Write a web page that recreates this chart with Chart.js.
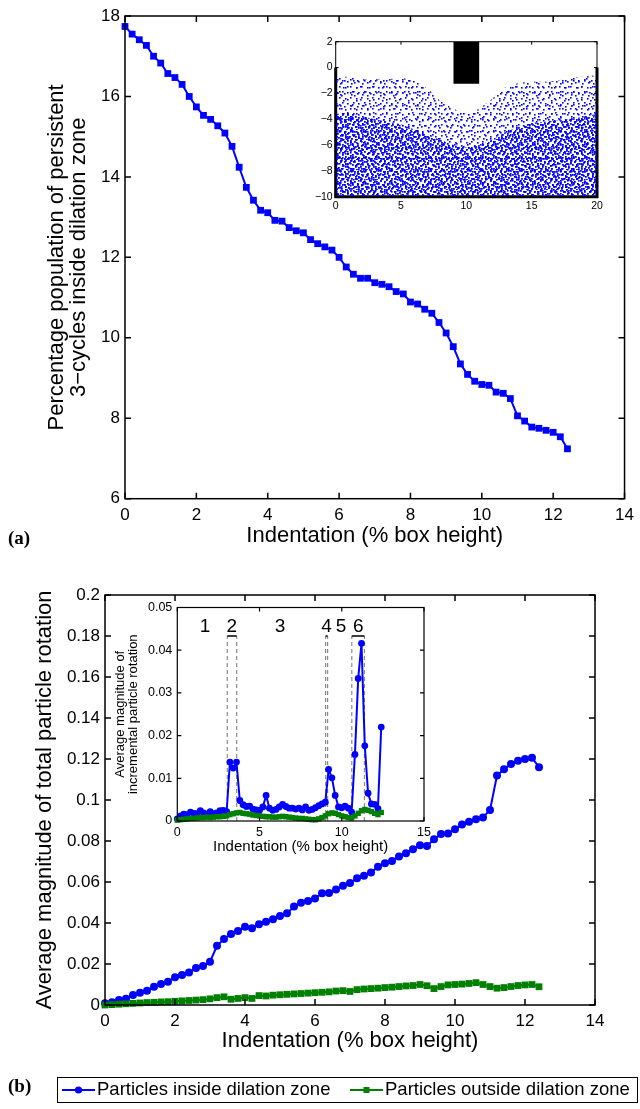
<!DOCTYPE html>
<html lang="en">
<head>
<meta charset="UTF-8">
<title>Indentation: persistent 3-cycles and particle rotation</title>
<script src="https://cdn.jsdelivr.net/npm/chart.js@4.4.1/dist/chart.umd.min.js"></script>
<style>
  html, body { margin: 0; padding: 0; background: #fff; }
  body { width: 640px; height: 1109px; position: relative; overflow: hidden; }
  .box { position: absolute; }
  .panel { position: absolute; font-family: "Liberation Serif", "DejaVu Serif", serif; font-weight: bold; font-size: 19px; line-height: 1; }
</style>
</head>
<body>
  <div class="box" style="left:0;top:0"><canvas id="cyclesChart" width="640" height="560"></canvas></div>
  <div class="box" style="left:300px;top:30px"><canvas id="bedChart" width="310" height="190"></canvas></div>
  <div class="box" style="left:0;top:570px"><canvas id="rotationChart" width="640" height="539"></canvas></div>
  <div class="box" style="left:108px;top:595px"><canvas id="incrementChart" width="330" height="265"></canvas></div>
  <div class="panel" style="left:8px;top:528px">(a)</div>
  <div class="panel" style="left:8px;top:1076px">(b)</div>

<script>
// indentation steps (% box height)
const indentation = [0, 0.2, 0.4, 0.6, 0.8, 1.0, 1.2, 1.4, 1.6, 1.8,
  2.0, 2.2, 2.4, 2.6, 2.8, 3.0, 3.2, 3.4, 3.6, 3.8,
  4.0, 4.2, 4.4, 4.6, 4.8, 5.0, 5.2, 5.4, 5.6, 5.8,
  6.0, 6.2, 6.4, 6.6, 6.8, 7.0, 7.2, 7.4, 7.6, 7.8,
  8.0, 8.2, 8.4, 8.6, 8.8, 9.0, 9.2, 9.4, 9.6, 9.8,
  10.0, 10.2, 10.4, 10.6, 10.8, 11.0, 11.2, 11.4, 11.6, 11.8,
  12.0, 12.2, 12.4];

// (a) % of persistent 3-cycles inside the dilation zone
const persistent3Cycles = [17.74, 17.55, 17.41, 17.27, 17.00, 16.83, 16.57, 16.47, 16.30, 16.00,
  15.74, 15.53, 15.43, 15.27, 15.09, 14.76, 14.24, 13.74, 13.42, 13.17,
  13.11, 12.92, 12.90, 12.74, 12.66, 12.61, 12.44, 12.34, 12.26, 12.18,
  12.00, 11.76, 11.58, 11.48, 11.48, 11.37, 11.33, 11.27, 11.15, 11.09,
  10.89, 10.84, 10.71, 10.61, 10.38, 10.12, 9.78, 9.35, 9.09, 8.92,
  8.84, 8.82, 8.65, 8.62, 8.49, 8.06, 7.93, 7.78, 7.75, 7.70,
  7.65, 7.54, 7.24];

// (a) inset: granular bed at the end of indentation
const bedX = [0, 1, 2, 3, 4, 5, 6, 7, 8, 9, 10, 11, 12, 13, 14, 15, 16, 17, 18, 19, 20];
const looseTop = [-0.8, -0.7, -0.9, -0.9, -0.9, -0.8, -1.0, -1.6, -2.6, -3.2, -3.6, -3.2, -2.4, -1.5, -1.2, -1.1, -1.1, -1.0, -0.8, -0.7, -0.6];
const packedTop = [-3.6, -3.5, -3.8, -4.0, -4.2, -4.4, -4.8, -5.2, -5.6, -6.0, -6.2, -6.0, -5.6, -5.0, -4.6, -4.3, -4.2, -4.1, -4.0, -3.8, -3.6];
const indenterX = [9, 11];
const indenterTip = -1.25;
const wallX = [0, 0, 20, 20];
const wallY = [0, -10, -10, 0];

// (b) total rotation
const rotationInside = [0.0008, 0.0013, 0.0024, 0.0031, 0.0049, 0.0060, 0.0070, 0.0089, 0.0102, 0.0114,
  0.0135, 0.0146, 0.0158, 0.0180, 0.0190, 0.0211, 0.0289, 0.0322, 0.0346, 0.0361,
  0.0382, 0.0374, 0.0394, 0.0406, 0.0418, 0.0434, 0.0447, 0.0480, 0.0499, 0.0507,
  0.0520, 0.0545, 0.0546, 0.0564, 0.0582, 0.0595, 0.0618, 0.0631, 0.0646, 0.0675,
  0.0691, 0.0702, 0.0724, 0.0740, 0.0760, 0.0779, 0.0776, 0.0808, 0.0834, 0.0837,
  0.0857, 0.0881, 0.0894, 0.0906, 0.0915, 0.0951, 0.1119, 0.1150, 0.1176, 0.1192,
  0.1200, 0.1206, 0.1160];
const rotationOutside = [0.0000, 0.0002, 0.0004, 0.0006, 0.0008, 0.0010, 0.0012, 0.0013, 0.0015, 0.0016,
  0.0018, 0.0020, 0.0022, 0.0024, 0.0026, 0.0030, 0.0036, 0.0040, 0.0028, 0.0032,
  0.0036, 0.0032, 0.0046, 0.0044, 0.0048, 0.0050, 0.0052, 0.0054, 0.0056, 0.0058,
  0.0060, 0.0062, 0.0064, 0.0068, 0.0070, 0.0066, 0.0075, 0.0078, 0.0080, 0.0082,
  0.0085, 0.0087, 0.0090, 0.0093, 0.0095, 0.0100, 0.0094, 0.0080, 0.0090, 0.0098,
  0.0100, 0.0102, 0.0105, 0.0109, 0.0100, 0.0090, 0.0082, 0.0085, 0.0090, 0.0095,
  0.0098, 0.0100, 0.0089];

// (b) inset: incremental rotation per step
const incrementInside = [0.0005, 0.0012, 0.0016, 0.0015, 0.0021, 0.0018, 0.0017, 0.0024, 0.0019, 0.0016,
  0.0022, 0.0017, 0.0019, 0.0024, 0.0025, 0.0022, 0.0138, 0.0124, 0.0138, 0.0048,
  0.0038, 0.0034, 0.0035, 0.0028, 0.0026, 0.0025, 0.0033, 0.0060, 0.0030, 0.0025,
  0.0027, 0.0033, 0.0039, 0.0034, 0.0030, 0.0030, 0.0028, 0.0030, 0.0026, 0.0033,
  0.0025, 0.0027, 0.0031, 0.0036, 0.0040, 0.0044, 0.0121, 0.0101, 0.0060, 0.0033,
  0.0031, 0.0035, 0.0030, 0.0021, 0.0156, 0.0334, 0.0416, 0.0176, 0.0065, 0.0040,
  0.0039, 0.0029, 0.0220];
const incrementOutside = [0.0002, 0.0003, 0.0004, 0.0005, 0.0006, 0.0006, 0.0007, 0.0008, 0.0008, 0.0009,
  0.0008, 0.0009, 0.0010, 0.0010, 0.0011, 0.0012, 0.0015, 0.0017, 0.0019, 0.0020,
  0.0018, 0.0017, 0.0016, 0.0014, 0.0013, 0.0012, 0.0011, 0.0010, 0.0010, 0.0009,
  0.0009, 0.0010, 0.0011, 0.0010, 0.0009, 0.0008, 0.0007, 0.0006, 0.0006, 0.0005,
  0.0004, 0.0003, 0.0003, 0.0005, 0.0008, 0.0012, 0.0017, 0.0019, 0.0018, 0.0015,
  0.0012, 0.0010, 0.0008, 0.0007, 0.0012, 0.0018, 0.0024, 0.0027, 0.0025, 0.0022,
  0.0018, 0.0015, 0.0020];

// stage boundaries and stage numbers
const stageBounds = [3.04, 3.61, 9.02, 9.14, 10.61, 11.38];
const stageTop = 0.0433;
const stageNames = ['1', '2', '3', '4', '5', '6'];
const stageNameX = [1.68, 3.32, 6.24, 9.07, 9.95, 11.0];
const stageNameY = 0.0455;
const underlined = [[3.04, 3.61], [9.02, 9.14], [10.61, 11.38]];

const BLUE = '#0000ff';
const GREEN = '#008000';
const FONT = 'Liberation Sans';
const tickFont = { family: FONT, size: 17 };
const titleFont = { family: FONT, size: 22, lineHeight: 1 };
const plain = v => String(+(+v).toFixed(4)).replace('-', '\u2212');

// matlab-like box with inward ticks on all four sides
const boxFrame = {
  id: 'boxFrame',
  afterDatasetsDraw(chart, args, opts) {
    const { ctx, chartArea: a, scales: { x, y } } = chart;
    const len = opts.tick || 6;
    ctx.save();
    ctx.strokeStyle = '#000';
    ctx.lineWidth = opts.width || 1.5;
    ctx.beginPath();
    x.ticks.forEach(t => {
      const px = x.getPixelForValue(t.value);
      ctx.moveTo(px, a.bottom); ctx.lineTo(px, a.bottom - len);
      ctx.moveTo(px, a.top); ctx.lineTo(px, a.top + len);
    });
    y.ticks.forEach(t => {
      const py = y.getPixelForValue(t.value);
      ctx.moveTo(a.left, py); ctx.lineTo(a.left + len, py);
      ctx.moveTo(a.right, py); ctx.lineTo(a.right - len, py);
    });
    ctx.stroke();
    ctx.strokeRect(a.left, a.top, a.width, a.height);
    ctx.restore();
  }
};

const whitePlot = {
  id: 'whitePlot',
  beforeDraw(chart) {
    const { ctx, chartArea: a } = chart;
    ctx.save();
    ctx.fillStyle = '#fff';
    ctx.fillRect(a.left, a.top, a.width, a.height);
    ctx.restore();
  }
};

function series(label, xs, ys, color, style, radius, width, order) {
  return {
    label,
    data: xs.map((x, i) => ({ x, y: ys[i] })),
    borderColor: color,
    backgroundColor: color,
    pointBackgroundColor: color,
    pointBorderWidth: 0,
    pointStyle: style,
    pointRadius: radius,
    borderWidth: width,
    tension: 0,
    fill: false,
    clip: false,
    order
  };
}

function linearAxis(min, max, step, font, pad, size, horizontal) {
  return {
    type: 'linear', min, max,
    ticks: { stepSize: step, font, color: '#000', padding: pad, maxRotation: 0, autoSkip: false, callback: plain },
    grid: { display: false, drawTicks: false },
    border: { display: false },
    afterFit: s => { if (horizontal) s.height = size; else s.width = size; }
  };
}

// ---------- (a) main ----------
const cyclesX = linearAxis(0, 14, 2, tickFont, 6, 61.3, true);
cyclesX.title = { display: true, text: 'Indentation (% box height)', font: titleFont, color: '#000', padding: { top: 0, bottom: 13 } };
const cyclesY = linearAxis(6, 18, 2, tickFont, 5, 125, false);
cyclesY.title = { display: true, text: ['Percentage population of persistent', '3\u2212cycles inside dilation zone'], font: titleFont, color: '#000', padding: { top: 46, bottom: 0 } };

new Chart(document.getElementById('cyclesChart'), {
  type: 'line',
  data: { datasets: [series('3-cycles', indentation, persistent3Cycles, BLUE, 'rect', 4.8, 2, 0)] },
  options: {
    responsive: false, animation: false,
    layout: { padding: { top: 16, right: 14, left: 0, bottom: 0 } },
    scales: { x: cyclesX, y: cyclesY },
    plugins: { legend: { display: false }, tooltip: { enabled: false }, boxFrame: { tick: 6 } }
  },
  plugins: [boxFrame]
});

// ---------- (a) inset: particle bed ----------
const bedCtx = document.getElementById('bedChart').getContext('2d');
function speckle(size, dots, dot) {
  const tile = document.createElement('canvas');
  tile.width = tile.height = size;
  const g = tile.getContext('2d');
  g.fillStyle = BLUE;
  dots.forEach(([dx, dy]) => g.fillRect(dx, dy, dot, dot));
  return bedCtx.createPattern(tile, 'repeat');
}
// two tile sizes laid over each other so the grains don't line up
const looseA = speckle(11, [[1, 2], [6, 1], [9, 6], [3, 7], [7, 9]], 1.6);
const looseB = speckle(13, [[2, 0], [8, 4], [0, 9], [5, 11], [11, 10], [4, 5]], 1.6);
const packedA = speckle(10, [[0, 0], [4, 1], [7, 3], [2, 4], [5, 6], [8, 7], [1, 8], [6, 9]], 1.8);
const packedB = speckle(13, [[1, 1], [6, 0], [10, 2], [3, 5], [8, 6], [11, 8], [0, 10], [5, 11], [9, 11], [6, 3]], 1.8);

const bedLayer = (ys, pattern) => ({
  data: bedX.map((x, i) => ({ x, y: ys[i] })), borderWidth: 0, pointRadius: 0, fill: 'start', backgroundColor: pattern
});

const smallFont = { family: FONT, size: 10.5 };
new Chart(bedCtx, {
  type: 'line',
  data: {
    datasets: [
      { data: indenterX.map(x => ({ x, y: indenterTip })), borderWidth: 0, pointRadius: 0, fill: 'end', backgroundColor: '#000' },
      bedLayer(looseTop, looseA),
      bedLayer(looseTop, looseB),
      bedLayer(packedTop, packedA),
      bedLayer(packedTop, packedB),
      { data: wallX.map((x, i) => ({ x, y: wallY[i] })), borderWidth: 3, borderColor: '#000', pointRadius: 0, fill: false, clip: false }
    ]
  },
  options: {
    responsive: false, animation: false,
    layout: { padding: { top: 11.7, right: 13, left: 0, bottom: 0 } },
    scales: {
      x: linearAxis(0, 20, 5, smallFont, 3, 23.3, true),
      y: linearAxis(-10, 2, 2, smallFont, 3, 35.7, false)
    },
    plugins: { legend: { display: false }, tooltip: { enabled: false }, boxFrame: { tick: 3, width: 1 } }
  },
  plugins: [whitePlot, boxFrame]
});

// ---------- (b) main ----------
const legendBox = {
  id: 'legendBox',
  afterDraw(chart, args, o) {
    const { ctx } = chart;
    ctx.save();
    ctx.strokeStyle = '#000';
    ctx.lineWidth = 1;
    ctx.strokeRect(o.left + 0.5, o.top + 0.5, o.width, o.height);
    const cy = o.top + o.height / 2 + 0.5;
    ctx.font = o.size + 'px "' + FONT + '"';
    ctx.textBaseline = 'middle';
    chart.data.datasets.forEach((d, i) => {
      const sx = o.starts[i];
      ctx.strokeStyle = d.borderColor;
      ctx.lineWidth = 2;
      ctx.beginPath();
      ctx.moveTo(sx, cy); ctx.lineTo(sx + 33, cy);
      ctx.stroke();
      ctx.fillStyle = d.borderColor;
      const mx = sx + 16.5;
      if (d.pointStyle === 'circle') {
        ctx.beginPath(); ctx.arc(mx, cy, 3.6, 0, Math.PI * 2); ctx.fill();
      } else {
        ctx.fillRect(mx - 3, cy - 3, 6, 6);
      }
      ctx.fillStyle = '#000';
      ctx.fillText(d.label, sx + 35, cy);
    });
    ctx.restore();
  }
};

const rotX = linearAxis(0, 14, 2, tickFont, 6, 55, true);
rotX.title = { display: true, text: 'Indentation (% box height)', font: titleFont, color: '#000', padding: { top: 0, bottom: 8 } };
const rotY = linearAxis(0, 0.2, 0.02, tickFont, 5, 105, false);
rotY.title = { display: true, text: 'Average magnitude of total particle rotation', font: titleFont, color: '#000', padding: { top: 34, bottom: 0 } };

new Chart(document.getElementById('rotationChart'), {
  type: 'line',
  data: {
    datasets: [
      series('Particles inside dilation zone', indentation, rotationInside, BLUE, 'circle', 4, 2, 1),
      series('Particles outside dilation zone', indentation, rotationOutside, GREEN, 'rect', 4.8, 2.2, 0)
    ]
  },
  options: {
    responsive: false, animation: false,
    layout: { padding: { top: 25, right: 45, left: 0, bottom: 49 } },
    scales: { x: rotX, y: rotY },
    plugins: {
      legend: { display: false }, tooltip: { enabled: false },
      boxFrame: { tick: 6 },
      legendBox: { left: 57, top: 507, width: 580, height: 25, size: 18.5, starts: [62, 350] }
    }
  },
  plugins: [boxFrame, legendBox]
});

// ---------- (b) inset: incremental rotation ----------
const stageText = {
  id: 'stageText',
  afterDatasetsDraw(chart) {
    const { ctx, scales: { x, y } } = chart;
    ctx.save();
    ctx.fillStyle = '#000';
    ctx.font = '19px "' + FONT + '"';
    ctx.textAlign = 'center';
    ctx.textBaseline = 'middle';
    stageNames.forEach((n, i) => ctx.fillText(n, x.getPixelForValue(stageNameX[i]), y.getPixelForValue(stageNameY)));
    ctx.strokeStyle = '#000';
    ctx.lineWidth = 1.5;
    ctx.beginPath();
    const uy = y.getPixelForValue(stageTop);
    underlined.forEach(([a, b]) => { ctx.moveTo(x.getPixelForValue(a), uy); ctx.lineTo(x.getPixelForValue(b), uy); });
    ctx.stroke();
    ctx.restore();
  }
};

const insetTick = { family: FONT, size: 12.5 };
const incX = linearAxis(0, 15, 5, insetTick, 4, 39, true);
incX.title = { display: true, text: 'Indentation (% box height)', font: { family: FONT, size: 15, lineHeight: 1 }, color: '#000', padding: { top: 0, bottom: 5.5 } };
const incY = linearAxis(0, 0.05, 0.01, insetTick, 5, 69.3, false);
incY.title = { display: true, text: ['Average magnitude of', 'incremental particle rotation'], font: { family: FONT, size: 13, lineHeight: 1 }, color: '#000', padding: { top: 5.5, bottom: 0 } };

const boundaryLines = stageBounds.map(b => ({
  data: [{ x: b, y: 0 }, { x: b, y: stageTop }],
  borderColor: '#8a8a8a', borderWidth: 1.2, borderDash: [4, 3], pointRadius: 0, fill: false, order: 2
}));

new Chart(document.getElementById('incrementChart'), {
  type: 'line',
  data: {
    datasets: [
      series('Particles inside dilation zone', indentation, incrementInside, BLUE, 'circle', 3.4, 2, 1),
      series('Particles outside dilation zone', indentation, incrementOutside, GREEN, 'rect', 3.8, 2.5, 0),
      ...boundaryLines
    ]
  },
  options: {
    responsive: false, animation: false,
    layout: { padding: { top: 7.7, right: 14, left: 0, bottom: 0 } },
    scales: { x: incX, y: incY },
    plugins: { legend: { display: false }, tooltip: { enabled: false }, boxFrame: { tick: 4, width: 1.2 } }
  },
  plugins: [whitePlot, boxFrame, stageText]
});
</script>
</body>
</html>
